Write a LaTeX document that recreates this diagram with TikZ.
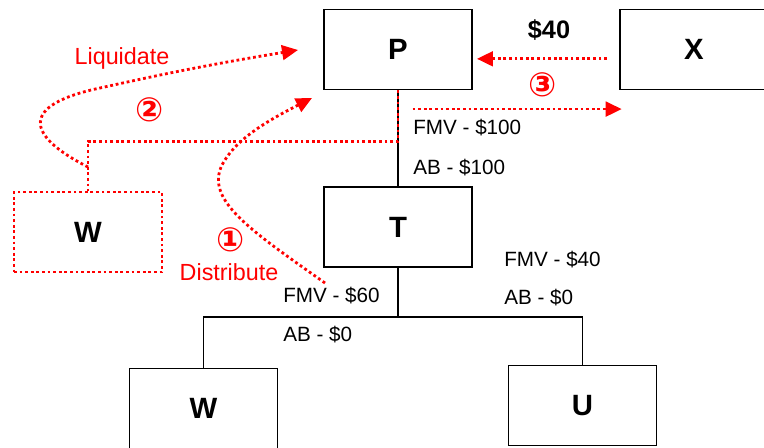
\documentclass[tikz,border=0pt]{standalone}
\usepackage{fontspec}
\setmainfont{Liberation Sans}
\newfontfamily\circfont{DejaVu Sans}
\usetikzlibrary{arrows.meta}
\definecolor{tred}{RGB}{255,0,0}
\tikzset{
  ent/.style={draw, line width=1.4pt, minimum width=111pt, minimum height=60pt, inner sep=0pt, font=\fontsize{22}{24}\selectfont\bfseries},
  ghost/.style={ent, draw=tred, line width=2.1pt, dash pattern=on 2.1pt off 2.1pt},
  link/.style={line width=1.4pt},
  flow/.style={draw=tred, line width=2.1pt, dash pattern=on 2.1pt off 2.1pt},
  flowarr/.style={flow, -{Triangle[length=12pt, width=11pt]}},
  val/.style={font=\fontsize{15.5}{17}\selectfont, anchor=west, inner sep=0pt},
  act/.style={text=tred, font=\fontsize{17.5}{19}\selectfont, inner sep=0pt},
  stepno/.style={text=tred, font=\circfont\bfseries\fontsize{25}{27}\selectfont, inner sep=0pt},
}

\begin{document}
\begin{tikzpicture}[x=0.75pt, y=-0.75pt]
  \useasboundingbox (0,0) rectangle (764,448);
  % entities
  \node[ent] (P) at (398,49.5) {P};
  \node[ent] (X) at (694,49.5) {X};
  \node[ent] (T) at (398,227) {T};
  \node[ent] (W) at (203.5,408.5) {W};
  \node[ent] (U) at (582.5,405.5) {U};
  \node[ghost] (Wd) at (88,232) {W};
  % ownership lines
  \coordinate (split) at (398,317);
  \draw[link] (P) -- (T);
  \draw[link] (T) -- (split);
  \draw[link] (W.north) |- (split) -| (U.north);
  % values
  \node[val] (fmvP) at (413,128) {FMV - \$100};
  \node[val] (abP) at (413,168) {AB - \$100};
  \node[val] (fmvW) at (283,296) {FMV - \$60};
  \node[val] (abW) at (283,335) {AB - \$0};
  \node[val] (fmvU) at (504,260) {FMV - \$40};
  \node[val] (abU) at (504,298) {AB - \$0};
  \node[font=\fontsize{19}{21}\selectfont\bfseries] (cash) at (549,30) {\$40};
  % steps
  \coordinate (lq) at (88,167);
  \coordinate (ds) at (325,283);
  \draw[flow] (P.south) -- ++(0,51) -| (Wd.north);
  \draw[flowarr] (lq) .. controls (25,135) and (20,105) .. (100,88) .. controls (150,77) and (200,66) .. (298,50);
  \draw[flowarr] (ds) .. controls (250,230) and (205,200) .. (222,165) .. controls (235,140) and (265,122) .. (312,98);
  \draw[flowarr, shorten <=9pt, shorten >=3pt] ([yshift=-7pt]X.west) -- ([yshift=-7pt]P.east);
  \draw[flowarr] ([shift={(11pt,-14pt)}]P.south) -- ([shift={(2pt,-14pt)}]X.south west);
  \node[act] (liq) at (122,58) {Liquidate};
  \node[act] (dist) at (229,272) {Distribute};
  \node[stepno] (s1) at (231,240) {①};
  \node[stepno] (s2) at (150,110) {②};
  \node[stepno] (s3) at (543,85) {③};
\end{tikzpicture}
\end{document}
